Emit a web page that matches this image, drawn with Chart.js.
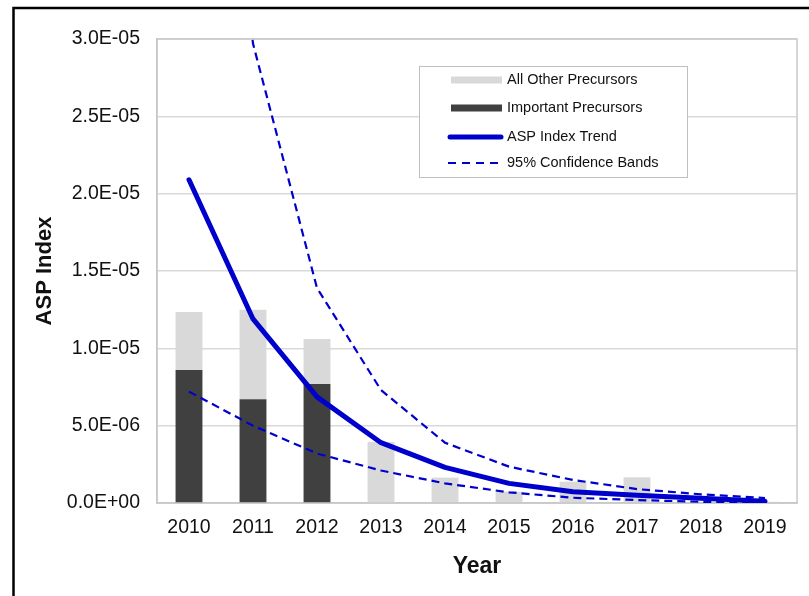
<!DOCTYPE html>
<html>
<head>
<meta charset="utf-8">
<title>ASP Index by Year</title>
<script src="https://cdn.jsdelivr.net/npm/chart.js@4/dist/chart.umd.min.js"></script>
<style>
  html, body { margin: 0; padding: 0; background: #ffffff; }
  #wrap { width: 809px; height: 596px; position: relative; }
  canvas { display: block; }
</style>
</head>
<body>
<div id="wrap"><canvas id="chart" width="809" height="596"></canvas></div>
<script>
// Years on the category axis
const years = ['2010', '2011', '2012', '2013', '2014', '2015', '2016', '2017', '2018', '2019'];

// Stacked bar parts of the ASP index
const importantPrecursors = [8.6e-6, 6.7e-6, 7.7e-6, 0, 0, 0, 0, 0, 0, 0];
const otherPrecursors = [3.75e-6, 5.8e-6, 2.9e-6, 3.95e-6, 1.64e-6, 0.73e-6, 1.38e-6, 1.66e-6, 0, 0.08e-6];

// Fitted trend and its 95% confidence bands
const trend = [20.9e-6, 11.9e-6, 6.86e-6, 3.9e-6, 2.3e-6, 1.27e-6, 0.73e-6, 0.5e-6, 0.3e-6, 0.12e-6];
const upperBand = [65e-6, 29.7e-6, 13.9e-6, 7.3e-6, 3.9e-6, 2.35e-6, 1.49e-6, 0.9e-6, 0.56e-6, 0.32e-6];
const lowerBand = [7.2e-6, 5.0e-6, 3.2e-6, 2.1e-6, 1.27e-6, 0.69e-6, 0.34e-6, 0.19e-6, 0.08e-6, 0.03e-6];

// Value axis ticks
const yTickMax = 3.0e-5;
const yTickStep = 5.0e-6;

const FONT = '"Liberation Sans", Arial, Helvetica, sans-serif';
const LIGHT = '#d9d9d9';
const DARK = '#404040';
const BLUE = '#0000cc';

// Spreadsheet-style scientific notation, e.g. 2.5E-05
function sci(v) {
  if (Math.abs(v) < 1e-20) return '0.0E+00';
  const parts = Number(v).toExponential(1).split('e');
  const exp = parseInt(parts[1], 10);
  return parts[0] + 'E' + (exp < 0 ? '-' : '+') + String(Math.abs(exp)).padStart(2, '0');
}

// Black frame around the figure
const framePlugin = {
  id: 'frame',
  beforeDraw(chart) {
    const ctx = chart.ctx;
    ctx.save();
    ctx.fillStyle = '#ffffff';
    ctx.fillRect(0, 0, chart.width, chart.height);
    ctx.strokeStyle = '#000000';
    ctx.lineWidth = 2.5;
    ctx.beginPath();
    ctx.moveTo(13.5, chart.height + 5);
    ctx.lineTo(13.5, 8);
    ctx.lineTo(chart.width + 5, 8);
    ctx.stroke();
    ctx.restore();
  }
};

// Grey border around the plot area
const plotBorderPlugin = {
  id: 'plotBorder',
  beforeDatasetsDraw(chart) {
    const a = chart.chartArea;
    const ctx = chart.ctx;
    ctx.save();
    ctx.strokeStyle = '#c8c8c8';
    ctx.lineWidth = 1.5;
    ctx.strokeRect(a.left, a.top, a.right - a.left, a.bottom - a.top);
    ctx.restore();
  }
};

// Boxed legend drawn inside the plot area
const boxLegendPlugin = {
  id: 'boxLegend',
  afterDraw(chart) {
    const a = chart.chartArea;
    const ctx = chart.ctx;
    const x0 = a.left + 262, y0 = a.top + 27, w = 268, h = 111;
    ctx.save();
    ctx.fillStyle = '#ffffff';
    ctx.fillRect(x0, y0, w, h);
    ctx.strokeStyle = '#bfbfbf';
    ctx.lineWidth = 1;
    ctx.strokeRect(x0 + 0.5, y0 + 0.5, w, h);

    const rows = [
      { label: 'All Other Precursors', kind: 'bar', color: LIGHT },
      { label: 'Important Precursors', kind: 'bar', color: DARK },
      { label: 'ASP Index Trend', kind: 'line', color: BLUE },
      { label: '95% Confidence Bands', kind: 'dash', color: BLUE }
    ];
    const rowY = [14, 42, 71, 97];
    ctx.font = '14.5px ' + FONT;
    ctx.textBaseline = 'middle';
    ctx.textAlign = 'left';
    rows.forEach((r, i) => {
      const cy = y0 + rowY[i];
      if (r.kind === 'bar') {
        ctx.fillStyle = r.color;
        ctx.fillRect(x0 + 32, cy - 3.5, 51, 7);
      } else if (r.kind === 'line') {
        ctx.strokeStyle = r.color;
        ctx.lineWidth = 5;
        ctx.lineCap = 'round';
        ctx.setLineDash([]);
        ctx.beginPath();
        ctx.moveTo(x0 + 31, cy);
        ctx.lineTo(x0 + 82, cy);
        ctx.stroke();
      } else {
        ctx.strokeStyle = r.color;
        ctx.lineWidth = 2.2;
        ctx.lineCap = 'butt';
        ctx.setLineDash([8, 6]);
        ctx.beginPath();
        ctx.moveTo(x0 + 29, cy);
        ctx.lineTo(x0 + 84, cy);
        ctx.stroke();
        ctx.setLineDash([]);
      }
      ctx.fillStyle = '#111111';
      ctx.fillText(r.label, x0 + 88, cy);
    });
    ctx.restore();
  }
};

new Chart(document.getElementById('chart'), {
  data: {
    labels: years,
    datasets: [
      {
        type: 'bar', label: 'Important Precursors', data: importantPrecursors,
        backgroundColor: DARK, stack: 'bars', order: 2,
        barPercentage: 0.42, categoryPercentage: 1.0
      },
      {
        type: 'bar', label: 'All Other Precursors', data: otherPrecursors,
        backgroundColor: LIGHT, stack: 'bars', order: 2,
        barPercentage: 0.42, categoryPercentage: 1.0
      },
      {
        type: 'line', label: '95% Confidence Bands', data: upperBand,
        borderColor: BLUE, borderWidth: 2.2, borderDash: [8, 5],
        pointRadius: 0, tension: 0, fill: false, stack: 'upper', order: 1
      },
      {
        type: 'line', label: '95% Confidence Bands (lower)', data: lowerBand,
        borderColor: BLUE, borderWidth: 2.2, borderDash: [8, 5],
        pointRadius: 0, tension: 0, fill: false, stack: 'lower', order: 1
      },
      {
        type: 'line', label: 'ASP Index Trend', data: trend,
        borderColor: BLUE, borderWidth: 5, borderCapStyle: 'round',
        borderJoinStyle: 'round',
        pointRadius: 0, tension: 0, fill: false, stack: 'trend', order: 0
      }
    ]
  },
  options: {
    responsive: false,
    animation: false,
    devicePixelRatio: 1,
    layout: { padding: { top: 39, right: 12, bottom: 0, left: 0 } },
    plugins: {
      legend: { display: false },
      tooltip: { enabled: false }
    },
    scales: {
      x: {
        stacked: true,
        grid: { display: false, drawTicks: false },
        border: { display: true, color: '#c8c8c8', width: 1.5 },
        ticks: {
          color: '#111111',
          font: { family: FONT, size: 19.5 },
          padding: 13,
          maxRotation: 0,
          autoSkip: false
        },
        title: {
          display: true,
          text: 'Year',
          color: '#111111',
          font: { family: FONT, size: 23, weight: 'bold' },
          padding: { top: 0, bottom: 16 }
        },
        afterFit(scale) { scale.height = 93; }
      },
      y: {
        stacked: true,
        min: 0,
        max: yTickMax,
        grid: { color: '#d9d9d9', lineWidth: 1.5, drawTicks: false },
        border: { display: true, color: '#c8c8c8', width: 1.5 },
        ticks: {
          stepSize: yTickStep,
          color: '#111111',
          font: { family: FONT, size: 19.5 },
          padding: 17,
          callback: (v) => sci(v)
        },
        title: {
          display: true,
          text: 'ASP Index',
          color: '#111111',
          font: { family: FONT, size: 22, weight: 'bold' },
          padding: { top: 32, bottom: 0 }
        },
        afterFit(scale) { scale.width = 157; }
      }
    }
  },
  plugins: [framePlugin, plotBorderPlugin, boxLegendPlugin]
});
</script>
</body>
</html>
